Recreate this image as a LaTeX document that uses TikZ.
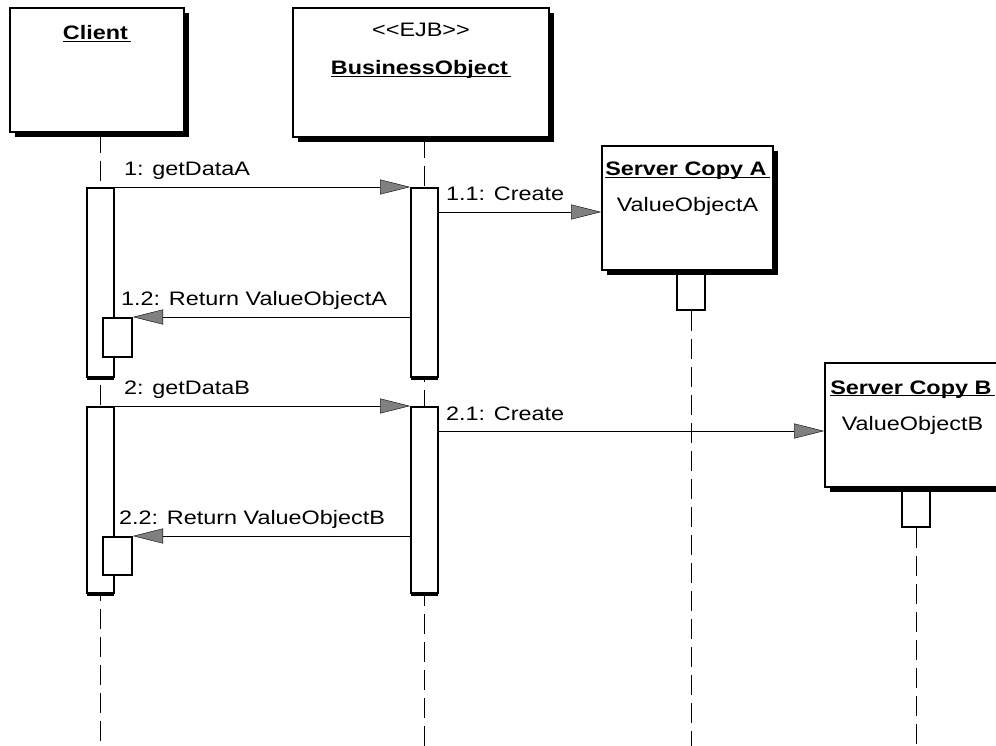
\documentclass[tikz,border=0pt]{standalone}
\usepackage{fontspec}
\setmainfont{Liberation Sans}[FakeStretch=1.2]
\usetikzlibrary{arrows.meta, positioning, calc, shadows}

\newcommand{\umlsize}{\fontsize{19.5}{22}\selectfont}
\newcommand{\uml}[1]{\underline{\smash{#1}\,}}
\pgfdeclarelayer{bg}
\pgfsetlayers{bg,main}

\begin{document}
\begin{tikzpicture}[x=1pt, y=-1pt, line width=2pt, font=\umlsize,
    >={Triangle[length=30pt, width=15pt, fill=gray]},
    obj/.style={draw, fill=white, inner sep=0pt,
      drop shadow={shadow xshift=5pt, shadow yshift=-5pt, fill=black, opacity=1}},
    act/.style={draw, fill=white, inner sep=0pt, minimum width=27pt,
      drop shadow={shadow xshift=0pt, shadow yshift=-2.5pt, fill=black, opacity=1}},
    stub/.style={draw, fill=white, inner sep=0pt, minimum width=28pt, minimum height=40pt},
    title/.style={anchor=base, inner sep=0pt, font=\umlsize\bfseries},
    attr/.style={anchor=base, inner sep=0pt},
    life/.style={dash pattern=on 20pt off 8pt},
    lbl/.style={anchor=base west, inner sep=0pt}]
  \useasboundingbox (0,0) rectangle (996,746);
  \clip (0,0) rectangle (996,746);

  % Stubs under the created objects
  \node[stub] (stubA) at (691,290) {};
  \node[stub] (stubB) at (916,507) {};

  % Objects
  \node[obj, minimum width=174pt, minimum height=124pt] (client) at (97,70) {};
  \node[obj, minimum width=256pt, minimum height=129pt] (bo) at (421,72.5) {};
  \node[obj, minimum width=171pt, minimum height=124pt] (copyA) at (687.5,208) {};
  \node[obj, minimum width=175pt, minimum height=124pt] (copyB) at (912.5,425) {};

  \node[title] at ($(client.north)+(0,33)$) {\uml{Client}};
  \node[attr] at ($(bo.north)+(0,30)$) {<{}<EJB>{}>};
  \node[title] at ($(bo.north)+(0,68)$) {\uml{BusinessObject}};
  \node[title] at ($(copyA.north)+(0,31)$) {\uml{Server Copy A}};
  \node[attr] at ($(copyA.north)+(0,67)$) {ValueObjectA};
  \node[title] at ($(copyB.north)+(0,32)$) {\uml{Server Copy B}};
  \node[attr] at ($(copyB.north)+(0,68)$) {ValueObjectB};

  % Activations
  \node[act, minimum height=189pt] (ca1) at (100.5,282.5) {};
  \node[act, minimum height=189pt] (ba1) at (424.5,282.5) {};
  \node[act, minimum height=186pt] (ca2) at (100.5,500) {};
  \node[act, minimum height=186pt] (ba2) at (424.5,500) {};
  \node[stub, minimum width=29pt, minimum height=39pt] (sa1) at (117.5,337.5) {};
  \node[stub, minimum width=29pt, minimum height=38pt] (sa2) at (117.5,556) {};

  % Lifelines
  \begin{pgfonlayer}{bg}
    \draw[life] (ca1 |- client.south) -- (ca1 |- 0,746);
    \draw[life] (ba1 |- bo.south) -- (ba1 |- 0,746);
    \draw[life] (stubA.south) -- (stubA |- 0,746);
    \draw[life] (stubB.south) -- (stubB |- 0,746);
  \end{pgfonlayer}

  % Messages
  \coordinate (c11) at ($(ba1.north east)+(0,25)$);
  \coordinate (c21) at ($(ba2.north east)+(0,25)$);

  \draw[->] (ca1.north east) -- (ba1.north west)
    node[lbl, pos=0, xshift=9pt, yshift=11pt] {1: getDataA};
  \draw[->] (c11) -- (c11 -| copyA.west)
    node[lbl, pos=0, xshift=7pt, yshift=11pt] {1.1: Create};
  \draw[->] (ba1.west |- sa1.north) -- (sa1.north east)
    node[lbl, pos=1, xshift=-12pt, yshift=12pt] {1.2: Return ValueObjectA};

  \draw[->] (ca2.north east) -- (ba2.north west)
    node[lbl, pos=0, xshift=9pt, yshift=12pt] {2: getDataB};
  \draw[->] (c21) -- (c21 -| copyB.west)
    node[lbl, pos=0, xshift=7pt, yshift=11pt] {2.1: Create};
  \draw[->] (ba2.west |- sa2.north) -- (sa2.north east)
    node[lbl, pos=1, xshift=-14pt, yshift=12pt] {2.2: Return ValueObjectB};
\end{tikzpicture}
\end{document}
